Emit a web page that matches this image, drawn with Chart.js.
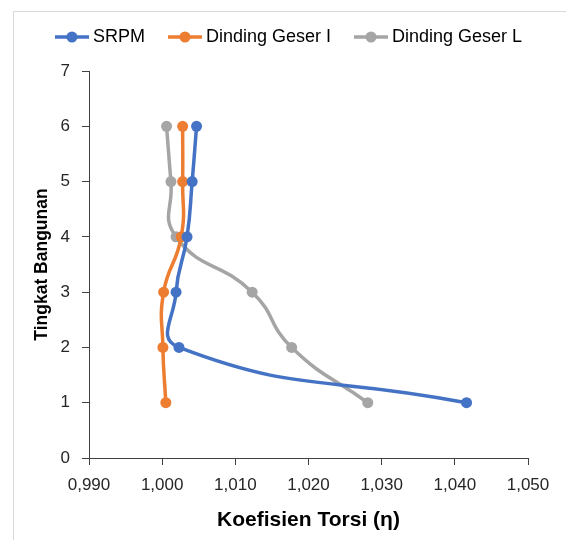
<!DOCTYPE html>
<html>
<head>
<meta charset="utf-8">
<script src="https://cdn.jsdelivr.net/npm/chart.js@4.4.1/dist/chart.umd.min.js"></script>
<style>
  html, body { margin: 0; padding: 0; background: #fff; overflow: hidden; }
  #wrap { position: relative; width: 566px; height: 540px; }
  #frame { position: absolute; left: 13px; top: 11px; width: 700px; height: 700px; border: 1px solid #d9d9d9; }
  #myChart { position: absolute; left: 0; top: 0; }
</style>
</head>
<body>
<div id="wrap">
  <div id="frame"></div>
  <canvas id="myChart" width="566" height="540"></canvas>
</div>
<script>
// data
const tingkat = [1, 2, 3, 4, 5, 6];
const srpm = [1.0416, 1.0023, 1.0019, 1.0034, 1.0041, 1.0047];
const dindingGeserI = [1.0005, 1.0001, 1.0002, 1.0026, 1.0028, 1.0028];
const dindingGeserL = [1.0281, 1.0177, 1.0123, 1.0019, 1.0012, 1.0006];

const seriesNames = ['SRPM', 'Dinding Geser I', 'Dinding Geser L'];
const seriesColors = ['#4472C4', '#ED7D31', '#A5A5A5'];
const seriesValues = [srpm, dindingGeserI, dindingGeserL];

const xTicksMin = 0.99;
const xTicksMax = 1.05;
const yTicksMin = 0;
const yTicksMax = 7;

function legendIcon(color) {
  const c = document.createElement('canvas');
  c.width = 34;
  c.height = 12;
  const g = c.getContext('2d');
  g.strokeStyle = color;
  g.lineWidth = 3.5;
  g.beginPath();
  g.moveTo(0, 6);
  g.lineTo(34, 6);
  g.stroke();
  g.fillStyle = color;
  g.beginPath();
  g.arc(17, 6, 5.5, 0, Math.PI * 2);
  g.fill();
  return c;
}

const d = {
  datasets: []
};

for (let a = 0; a < seriesNames.length; a++) {
  d.datasets.push({
    label: seriesNames[a],
    data: tingkat.map((y, i) => ({ x: seriesValues[a][i], y: y })),
    showLine: true,
    tension: 0.5,
    borderColor: seriesColors[a],
    backgroundColor: seriesColors[a],
    borderWidth: 3.5,
    pointRadius: 5.5,
    pointBorderWidth: 0,
    pointBackgroundColor: seriesColors[a],
    icon: legendIcon(seriesColors[a])
  });
}

const legendShift = 27;

const legendFix = {
  id: 'legendFix',
  beforeInit(chart) {
    const fit = chart.legend.fit;
    chart.legend.fit = function () {
      fit.bind(this)();
      this.height = 71;
    };
  },
  afterLayout(chart) {
    chart.legend.left += legendShift;
    chart.legend.right += legendShift;
  }
};

const axisColor = '#404040';
const textColor = '#262626';

const ctx = document.getElementById('myChart');
new Chart(ctx, {
  type: 'scatter',
  data: d,
  plugins: [legendFix],
  options: {
    responsive: false,
    animation: false,
    layout: { padding: { left: 0, right: 38, top: 0, bottom: 0 } },
    plugins: {
      tooltip: { enabled: false },
      legend: {
        position: 'top',
        labels: {
          usePointStyle: true,
          pointStyleWidth: 24,
          padding: 28,
          color: '#000',
          font: { family: 'Liberation Sans', size: 18 },
          generateLabels(chart) {
            return chart.data.datasets.map((ds, i) => ({
              text: ds.label,
              pointStyle: ds.icon,
              fillStyle: ds.borderColor,
              strokeStyle: ds.borderColor,
              lineWidth: 0,
              fontColor: '#000',
              hidden: false,
              datasetIndex: i
            }));
          }
        }
      }
    },
    scales: {
      x: {
        type: 'linear',
        min: xTicksMin,
        max: xTicksMax,
        afterFit: s => { s.height = 82; },
        ticks: {
          stepSize: 0.01,
          padding: 10,
          color: textColor,
          font: { family: 'Liberation Sans', size: 17 },
          callback: v => Number(v).toFixed(3).replace('.', ',')
        },
        grid: { drawOnChartArea: false, drawTicks: true, tickLength: 7, color: axisColor, lineWidth: 1 },
        border: { display: true, color: axisColor, width: 1 },
        title: {
          display: true,
          text: 'Koefisien Torsi (η)',
          color: '#000',
          font: { family: 'Liberation Sans', size: 21, weight: 'bold' },
          padding: { top: 0, bottom: 7 }
        }
      },
      y: {
        type: 'linear',
        min: yTicksMin,
        max: yTicksMax,
        afterFit: s => { s.width = 89; },
        ticks: {
          stepSize: 1,
          padding: 12,
          color: textColor,
          font: { family: 'Liberation Sans', size: 17 }
        },
        grid: { drawOnChartArea: false, drawTicks: true, tickLength: 7, color: axisColor, lineWidth: 1 },
        border: { display: true, color: axisColor, width: 1 },
        title: {
          display: true,
          text: 'Tingkat Bangunan',
          color: '#000',
          font: { family: 'Liberation Sans', size: 17.5, weight: 'bold' },
          padding: { top: 32, bottom: 0 }
        }
      }
    }
  }
});
</script>
</body>
</html>
